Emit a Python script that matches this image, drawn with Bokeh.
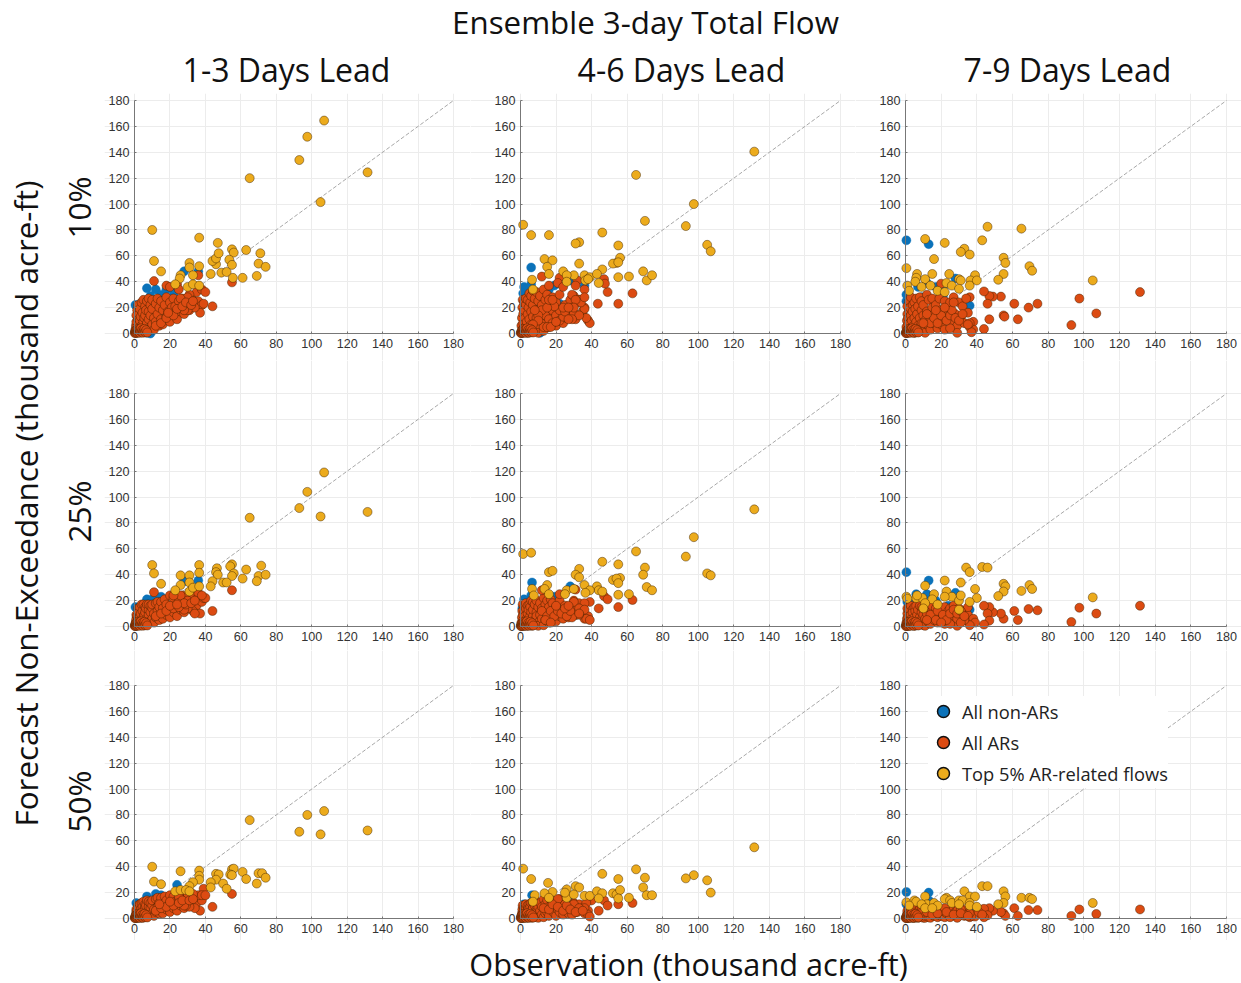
import math
from bokeh.embed import file_html
from bokeh.resources import INLINE
from bokeh.layouts import column, row
from bokeh.models import FixedTicker, Label, Legend, LegendItem, Range1d
from bokeh.plotting import figure

tick_values = [0, 20, 40, 60, 80, 100, 120, 140, 160, 180]
axis_max = 180
suptitle = "Ensemble 3-day Total Flow"
column_titles = ["1-3 Days Lead", "4-6 Days Lead", "7-9 Days Lead"]
row_titles = ["10%", "25%", "50%"]
y_title = "Forecast Non-Exceedance (thousand acre-ft)"
x_title = "Observation (thousand acre-ft)"
legend_labels = ["All non-ARs", "All ARs", "Top 5% AR-related flows"]

# observation values of the dense low-flow cluster (shared by all panels)
core_x = [0.3,0.5,0.8,1,1,1.2,1.5,1.5,2,2,
          2,2.5,2.5,3,3,3,3.5,4,4,4,
          4.5,5,5,5,5.5,6,6,6,6.5,7,
          7,7,8,8,8,9,9,9,10,10,
          10,11,11,12,12,13,13,14,14,15,
          15,16,16,17,18,18,19,20,20,21,
          22,22,23,24,25,26,27,28,29,30,
          31,32,33,35,36,38]

# the small events that pile up at the origin of every panel
origin_red = [(0.2,0.3),(0.4,1),(0.6,2),(0.8,0.4),(1,1.4),(1.2,2.8),(1.4,0.6),(1.6,1.8),(1.8,3.5),(2,0.8),
              (2.2,2.4),(2.5,1.2),(2.8,3.2),(3,0.5),(3.3,2),(3.6,4),(4,1.2),(4.4,2.8),(4.8,0.6),(5.2,2),
              (5.6,3.6),(6,1),(6.6,2.6),(7.2,0.8)]

r1c1_core = [1,3,6,9,14,2,18,5,22,11,
             1,7,15,3,19,10,13,24,6,1,
             16,26,9,3,12,21,5,14,18,8,
             25,2,11,17,27,4,14,22,7,19,
             26,3,12,23,9,15,27,6,20,11,
             25,7,18,22,13,28,17,9,24,20,
             15,27,21,11,25,17,27,15,20,26,
             18,24,26,21,25,22]
r1c2_core = [0.5,6,12,20,3,26,15,8,24,1,
             18,5,12,22,27,2,9,26,15,0.5,
             20,31,11,4,24,7,17,29,1,13,
             33,22,8,27,3,18,12,32,5,25,
             0.5,15,29,10,22,2,34,8,26,13,
             30,5,37,21,15,28,10,6,24,18,
             30,12,16,8,22,12,14,26,20,29,
             11,24,26,17,20,10]
r1c3_core = [0.5,5,10,15,21,2,12,7,18,25,
             1,8,20,4,14,28,10,22,2,17,
             6,24,12,0.5,19,9,27,3,15,6,
             21,1,12,28,5,18,8,25,2,14,
             22,0.5,10,30,17,6,26,12,3,20,
             27,8,15,22,4,12,27,7,18,11,
             25,3,14,20,24,10,28,15,6,24,
             12,21,8,16,5,9]
r2c1_core = [0.5,2,4,6,9,1,8,3,14,6,
             1,5,11,2,15,8,10,17,4,1,
             12,17,7,2,9,15,4,11,14,6,
             17,3,9,13,17,4,11,16,6,14,
             17,3,10,18,7,12,19,5,15,9,
             19,6,14,21,9,17,12,7,24,15,
             11,22,16,8,20,13,24,11,17,23,
             14,21,24,16,23,19]
r2c2_core = [0.5,3,7,12,2,17,9,5,15,0.5,
             11,3,8,14,18,1,6,16,10,0.5,
             13,17,7,2,15,4,11,20,0.5,8,
             19,13,5,17,2,11,8,20,3,15,
             0.5,9,18,6,14,1,22,5,17,8,
             20,3,15,21,9,18,7,4,15,11,
             20,8,12,6,16,9,7,14,10,20,
             9,15,18,14,6,8]
r2c3_core = [0.5,3,6,10,14,1,7,4,12,15,
             0.5,5,13,2,9,16,6,13,1,11,
             3,15,7,0.5,12,5,16,2,9,4,
             13,1,7,16,3,11,5,15,1,9,
             14,0.5,6,17,10,3,15,7,2,12,
             16,5,9,14,3,8,13,4,11,7,
             15,2,9,12,14,6,16,10,4,14,
             8,12,5,9,3,6]
r3c1_core = [0.5,1.5,3,5,7,1,6,2,10,4,
             0.5,3,8,1,11,5,7,12,3,0.5,
             9,13,5,1,7,11,3,8,10,4,
             14,2,6,9,13,3,8,12,4,10,
             14,2,7,15,5,9,16,4,12,6,
             16,4,11,17,7,14,10,5,18,12,
             8,17,13,6,16,10,18,8,13,17,
             10,16,18,12,17,14]
r3c2_core = [0.5,2,4,7,1,10,5,3,9,0.5,
             7,2,5,8,11,1,4,10,6,0.5,
             8,11,4,1,9,3,6,12,0.5,5,
             12,8,3,10,1,7,5,13,2,9,
             0.5,6,12,3,9,1,15,4,11,5,
             14,2,9,15,6,12,4,2,10,7,
             15,5,9,3,11,6,4,9,6,12,
             5,10,11,8,4,6]
r3c3_core = [0.5,1,2,4,6,0.5,3,1.5,5,7,
             0.5,2,6,1,4,7,3,5,0.5,6,
             1,7,3,0.5,5,2,8,1,4,2,
             6,0.5,3,7,1,5,2,7,0.5,4,
             6,0.5,2,8,5,1,7,3,0.5,6,
             7,2,4,6,1,3,7,2,5,3,
             7,1,4,6,7,3,8,5,1,6,
             3,7,2,4,1,3]

r1c1_gold = [(107,164.5),(97.5,152),(93,134),(65,120),(131.5,124.5),(105,101.5),(10,80),(36.5,74),(47,70),(11,56),(15,48),(31,54.5),(31,51),(36.5,52),(46,53.5),(44,56),(46,58),(47.5,62),(55,65),(56,62.5),(63,64.5),(71,62),(53.5,57),(55,53),(70,54),(74,51.5),(43,46),(49,47),(52,47.5),(69,44.5),(61,43),(55.5,43),(26,45),(33,45),(25.5,42.5),(23,38),(30,36),(33,38),(36.5,37)]
r1c1_blue = [(7,35),(12,34),(28,48),(36,48),(9,29),(15,30),(22,30),(0.5,22),(23,12),(24,35),(7,0.5),(5,12),(9,0),(18,34)]
r1c1_red = [(11,40.5),(55,39.5),(36,45),(18,37),(20,36),(24,38),(25,34),(35,32),(38,34),(40,32),(39,23),(44,21),(37,16),(34,20),(30,18),(28,18),(31,30),(30,28),(26,27),
            (12,6),(15,8),(18,12),(22,14),(24,19),(27,21),(29,24),(32,22),(33,25),(19,16)]

r1c2_gold = [(131.5,140.5),(65,122.5),(97.5,100),(1.5,84),(6,76),(16,76),(33,70.5),(31,69.5),(46,78),(70,87),(93,83),(105,68.5),(107,63.5),(55,68),(56,58.5),(13.5,57.5),(18,56.5),(15,51.5),(16,46),(33,54),(46,49.5),(54,54.5),(52,54),(55,55),(24,48),(30,45),(26,45),(26,40),(36,45),(36.5,41),(39,43.5),(43,46),(44,39),(55,43.5),(61,44),(69,48),(71,41),(74,45),(7,34),(6.5,41.5),(38,42)]
r1c2_blue = [(2,36),(6,51),(6,38),(19,37),(1.5,31),(28,41),(22,23),(20,18),(11,0.5),(36,37),(16,34)]
r1c2_red = [(12,44),(22,43),(21,39),(24,36),(32,41),(31,37),(36,34),(39,8),(37,12),(36,19),(43.5,23),(49,32),(47,42),(47.5,38.5),(55,23),(63,31),(33,26),(34,24),(36,28),(29,30),(31,26),(30,16),(30,20),(33,14),(29,11),
            (14,14),(16,11),(18,8),(18,18),(20,14),(22,10),(24,13),(22,18),(25,17),(27,11),(19,21),(12,18),(10,14),(8,18),(15,20),(24,20),(27,20),(16,26),(18,26),(13,5),(15,5),(17,5),(10,10),(7,7),(20,9)]

r1c3_gold = [(46,82.5),(65,81),(11,73),(22,70),(43,72),(33,65.5),(31,63),(36,61),(16,57.5),(55,58.5),(56,54.5),(69.5,52),(71,48.5),(0.5,50.5),(105,41),(55,46),(52,41.5),(6.5,46),(15,46),(24.5,46),(39,45),(30,42),(31,41),(36.5,41),(40,41),(36,37),(6,43),(5.5,40),(11,42),(23,39),(26,37),(30,34.5),(1,37),(2,33),(9,36),(14,37),(18,33),(22,32)]
r1c3_blue = [(0.5,72),(13,69),(28,42.5),(36,21.5),(0.5,30),(0.5,25),(12,39),(7,36),(17,36),(21,34),(21,29),(24,15),(9,28)]
r1c3_red = [(131.5,32),(97.5,27),(107,15.5),(93,6.5),(74,23),(69,20),(61,23),(63,11),(55,14),(55.5,13),(53.5,28.5),(49,28.5),(47,29),(44,32.5),(46,23),(47,11),(44,3.5),(38,3),(37,1),(36,8),(35,7),(29,0.5),(25,4),(20,38.5),(36,28),(34,27),
            (14,8),(16,12),(18,8),(20,14),(23,10),(25,14),(26,18),(28,12),(22,20),(30,10),(17,18),(32,15),(12,15),(10,8),(27,24)]

r2c1_gold = [(107,119),(97.5,104),(93,91.5),(65,84),(105,85),(131.5,88.5),(10,47.5),(11,41),(15,33),(26,39.5),(31,39.5),(36.5,47.5),(36.5,41.5),(46.5,45),(46,42),(55,48),(54,46.5),(63,44),(71.5,47),(47,40),(44,35),(43,31),(56,41),(55,39),(50,34),(52,34),(61,37),(70,39),(69,35),(74,40),(26,32),(31,34),(31,27),(33,30),(36.5,31),(23,28)]
r2c1_blue = [(28,35),(36,35.5),(7,21),(10,21),(13,21),(0.5,15),(15,23)]
r2c1_red = [(11,26.5),(55,28),(44,12),(37,10),(33,12),(34,10),(30,14),(28,13),(39,22),(40,22),(36,26),(38,24),(30,20),(29,17),(26,24),(22,24),
            (12,8),(15,10),(18,12),(22,14),(25,15),(28,18),(32,18),(34,20),(20,16),(24,17)]

r2c2_gold = [(131.5,90.5),(97.5,69),(93,54),(105,41),(107,39.5),(65,58),(1.5,56),(6,57),(46,50),(55,48),(33,44.5),(16,42),(18,43),(31,40),(33,38),(70,45.5),(69,40),(56,37.5),(52,36),(54,37),(55,33.5),(15,32),(36,32),(43,31),(44,28),(46,27),(71,30.5),(74,28),(61,25),(55,24.5),(39,28),(36.5,26),(6.5,29),(13.5,29),(16,25),(7.5,24),(26,28),(25,25),(30,29)]
r2c2_blue = [(6.5,34),(2,21),(28,31),(6,24),(19,23),(1,14),(24,15)]
r2c2_red = [(12,28),(22,25),(31,28.5),(47,23.5),(49,21),(63,20.5),(55,15),(44,14),(39,19),(36,18),(37,6),(39,5),(30,19),(33,14),(36,13),(31,9),(33,9),(29,7),
            (12,12),(15,8),(17,12),(19,8),(21,12),(23,10),(26,8),(28,12),(25,14),(14,5),(17,3),(20,16),(27,16),(33,10)]

r2c3_gold = [(34,45.5),(36,42),(43,46),(46,45.5),(22,35.5),(31,34),(11,31.5),(55,33),(56,31),(69.5,32),(71,29),(39,29),(65,27.5),(55,27),(23,27),(52,23.5),(105,22.5),(40,22),(26,23),(30,20),(31,24),(36,19),(16,25),(15,21),(22,23),(6,22),(0.5,23),(1,21.5),(9.5,22),(6.5,24),(11,18),(10,14),(18,17),(30,13)]
r2c3_blue = [(0.5,42),(13,35.5),(28,26),(6,25),(12,25),(36,13),(17,20),(24,16),(5,18),(1,19)]
r2c3_red = [(131.5,16),(97.5,14.5),(107,10),(93,3.5),(74,12.5),(69,13.5),(61,12),(63,5),(55,6),(53.5,10),(49,11),(47,15),(44,16),(46,10),(47,4.5),(44,1.5),(39,3),(36,1),(35,15),(29,0.5),(25,2),(29,6),(33,5),(31,3),
            (14,9),(17,5),(18,12),(21,9),(23,5),(25,10),(27,13),(29,10),(31,12),(33,8),(12,5),(20,3)]

r3c1_gold = [(107,83),(97.5,80),(65,76),(93,67),(105,65),(131.5,68),(10,40),(26,36.5),(36.5,37),(36.5,33),(36.5,30),(11,28.5),(15,26.5),(33,28),(31,25),(46,34.5),(47.5,34),(55,38),(56,38.5),(61,36),(46,30),(43,28),(43,24),(50,27),(52,23),(54,34),(55,33.5),(63,30.5),(69,27),(70,35),(72,35),(74,31.5),(23,21),(26,22),(29,22),(31,21)]
r3c1_blue = [(7,17),(12,19),(24,26),(1,12),(15,18)]
r3c1_red = [(55,19),(44,9),(37,6),(34,8),(31,9),(29,10),(39,23),(36,18),(38,18),(40,18),(30,14),(28,10),(33,19),(30,19),(25,17),
            (12,6),(15,8),(18,9),(22,10),(25,12),(27,14),(31,14),(33,15),(20,13),(14,11)]

r3c2_gold = [(131.5,55),(97.5,33.5),(93,31),(105,29.5),(107,20),(65,38),(70,31.5),(69,24),(1.5,38.5),(6,30.5),(15.5,27.5),(46,34.5),(55,30.5),(31,25),(33,24),(26,22.5),(18,20.5),(13.5,19.5),(8,18),(7,13),(16,16),(26,16),(25,20),(30,18.5),(36,17.5),(39,17.5),(43,21),(46,19.5),(44,15.5),(52,19.5),(54,18.5),(56,22),(55,15.5),(61,16),(71,18),(74,18)]
r3c2_blue = [(6.5,18),(2,11),(28,15)]
r3c2_red = [(47,14),(49,10),(63,12),(55,11),(44,6),(40,14),(37,12),(36,8),(38,3),(39,1.5),(30,11),(32,5),(29,3),(21,15),
            (13,8),(16,7),(18,11),(21,9),(24,6),(26,10),(28,7),(33,8),(31,5),(35,6)]

r3c3_gold = [(43,25),(46,25),(33,21),(55,21),(23,16),(56,17),(36,17),(39,17),(65,16),(69.5,16),(71,15),(55,12),(105,12),(52,11),(0.5,12.5),(5,14),(6,13),(11,17),(12,11),(16,12),(18,10),(22,15),(25,14),(26,12),(30,14),(32,14),(30,11),(36,12),(36,10),(40,9),(2,10),(9,11),(11,8),(15,8)]
r3c3_blue = [(0.5,20.5),(13,20),(0.5,11),(13,14),(36,5),(6,10)]
r3c3_red = [(131.5,7),(97.5,7),(107,3.5),(93,2),(74,6.5),(69,6.5),(61,8),(63,2),(55,4),(56,2),(53.5,5),(49,6),(47,8),(44,7.5),(46,2.5),(44,1),(39,1.5),(37,2),(36,4),(29,0.5),(25,1),(29,6),(33,3),(31,7),(20,6),(22,8),
            (8,4),(12,5),(15,3),(18,4),(23,5),(27,3),(31,4),(35,2),(41,5),(43,3)]

BLUE, RED, GOLD = "#0b72b9", "#dc4b12", "#ecab1c"
HEAD_FONT = "Open Sans"
TICK_FONT = "Liberation Sans"

# (figure width, px left of axis 0, px right of axis 180)
col_geom = [(366, 30, 17), (385, 50, 15), (386, 50, 15)]
# (figure height, px above axis 180, px below axis 0)
row_geom = [(267, 7, 27), (290, 33, 24), (290, 35, 22)]


def panel(core, gold, blue, red, cg, rg):
    # The frame fills the figure, so the axes sit inside it by fixed_location
    # and neither their labels nor the markers at 0 are cut.
    w, ml, mr = cg
    h, mt, mb = rg
    xk = axis_max / (w - ml - mr)
    yk = axis_max / (h - mt - mb)
    p = figure(width=w, height=h, min_border=0,
               x_range=Range1d(-ml * xk, axis_max + mr * xk), y_range=Range1d(-mb * yk, axis_max + mt * yk),
               toolbar_location=None, output_backend="svg", outline_line_color=None,
               background_fill_color=None, border_fill_color=None)
    for ax, gr in ((p.xaxis, p.xgrid), (p.yaxis, p.ygrid)):
        ax.fixed_location = 0
        ax.bounds = (0, axis_max)
        ax.ticker = FixedTicker(ticks=tick_values)
        ax.axis_line_color = "#777777"
        ax.axis_line_width = 1
        ax.major_tick_line_color = "#777777"
        ax.major_tick_in = 2
        ax.major_tick_out = 0
        ax.minor_tick_line_color = None
        ax.major_label_text_font = TICK_FONT
        ax.major_label_text_font_size = "12.6px"
        ax.major_label_text_color = "#333333"
        ax.major_label_standoff = 5
        gr.bounds = (0, axis_max)
        gr.ticker = FixedTicker(ticks=tick_values)
        gr.grid_line_color = "#ececec"
        gr.grid_line_width = 1
    p.line([0, axis_max], [0, axis_max], line_color="#a8a8a8", line_width=1, line_dash="4 2")
    style = dict(size=9, line_width=0.6, line_alpha=0.75, line_color="#3a2000")
    p.scatter([c[0] for c in blue], [c[1] for c in blue], fill_color=BLUE, **dict(style, line_color=BLUE))
    p.scatter(core_x, core, fill_color=RED, **style)
    p.scatter([c[0] for c in red], [c[1] for c in red], fill_color=RED, **style)
    p.scatter([c[0] for c in origin_red], [c[1] for c in origin_red], fill_color=RED, **style)
    p.scatter([c[0] for c in gold], [c[1] for c in gold], fill_color=GOLD, **style)
    return p


core_sets = [[r1c1_core, r1c2_core, r1c3_core], [r2c1_core, r2c2_core, r2c3_core], [r3c1_core, r3c2_core, r3c3_core]]
gold_sets = [[r1c1_gold, r1c2_gold, r1c3_gold], [r2c1_gold, r2c2_gold, r2c3_gold], [r3c1_gold, r3c2_gold, r3c3_gold]]
blue_sets = [[r1c1_blue, r1c2_blue, r1c3_blue], [r2c1_blue, r2c2_blue, r2c3_blue], [r3c1_blue, r3c2_blue, r3c3_blue]]
red_sets = [[r1c1_red, r1c2_red, r1c3_red], [r2c1_red, r2c2_red, r2c3_red], [r3c1_red, r3c2_red, r3c3_red]]

rows = []
panels = []
for i in range(3):
    cur = []
    for j in range(3):
        cur.append(panel(core_sets[i][j], gold_sets[i][j], blue_sets[i][j], red_sets[i][j], col_geom[j], row_geom[i]))
    panels.append(cur)
    rows.append(row(*cur, spacing=0))

# legend in the lower right panel; its keys have no data of their own
lp = panels[2][2]
items = []
for label, colour in zip(legend_labels, (BLUE, RED, GOLD)):
    r = lp.scatter([float("nan")], [float("nan")], size=12, fill_color=colour, line_color="#111111", line_width=1.5)
    items.append(LegendItem(label=label, renderers=[r]))
lp.add_layout(Legend(items=items, location=(73, 152), orientation="vertical", margin=0, padding=2,
                     spacing=1, glyph_width=30, glyph_height=30, label_height=30, label_standoff=4,
                     label_text_font=HEAD_FONT, label_text_font_size="18.3px", label_text_color="#222222",
                     background_fill_color="white", background_fill_alpha=1.0, border_line_color=None))


def strip(w, h):
    s = figure(width=w, height=h, x_range=Range1d(0, w), y_range=Range1d(0, h), min_border=0,
               toolbar_location=None, output_backend="svg", outline_line_color=None,
               x_axis_location=None, y_axis_location=None, background_fill_color=None, border_fill_color=None)
    s.grid.visible = False
    return s


def text(s, x, y, t, size, angle=0.0):
    s.add_layout(Label(x=x, y=y, x_units="screen", y_units="screen", text=t, angle=angle,
                       text_font=HEAD_FONT, text_font_size=size, text_color="#111111",
                       text_align="center", text_baseline="middle"))


header = strip(1241, 93)
text(header, 645, 72, suptitle, "31.3px")
for cx, t in zip((286, 681, 1067), column_titles):
    text(header, cx, 24, t, "32px")

left = strip(104, 847)
text(left, 25, 437, y_title, "31.4px", math.pi / 2)
for cy, t in zip((733, 429, 139), row_titles):
    text(left, 78, cy, t, "31.5px", math.pi / 2)

footer = strip(1241, 43)
text(footer, 688, 20, x_title, "30.7px")

page = column(header, row(left, column(*rows, spacing=0), spacing=0), footer, spacing=0)
open("out.html", "w").write(file_html(page, INLINE))
